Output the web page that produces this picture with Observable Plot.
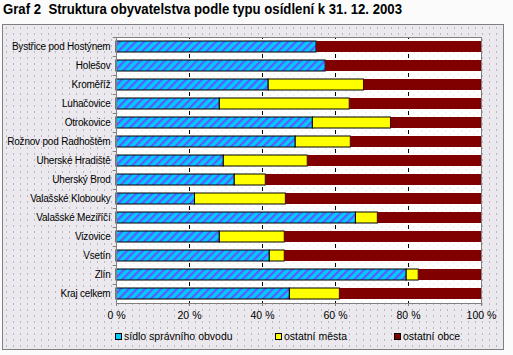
<!DOCTYPE html>
<html>
<head>
<meta charset="utf-8">
<script src="https://cdn.jsdelivr.net/npm/d3@7"></script>
<script src="https://cdn.jsdelivr.net/npm/@observablehq/plot@0.6"></script>
<style>
  html, body { margin: 0; padding: 0; }
  body {
    width: 513px; height: 355px; overflow: hidden; position: relative;
    background-color: #fbfbfb;
    font-family: "Liberation Sans", Arial, sans-serif;
  }
  #title {
    position: absolute; left: 3px; top: 0px; white-space: pre;
    font-weight: bold; font-size: 15px; color: #000; transform-origin: 0 0;
  }
  #frame {
    position: absolute; left: 2px; top: 24px; width: 500px; height: 324px;
    border: 1px solid #808080;
    background-color: #ebe9ed;
    background-image: radial-gradient(circle, #b9b7c4 0.7px, transparent 0.9px);
    background-size: 7px 6px;
  }
  #chart { position: absolute; left: 0; top: 24px; }
  .leg { position: absolute; top: 330px; font-size: 10.5px; white-space: nowrap; display: flex; align-items: center; }
  .sw { width: 5px; height: 5px; border: 1px solid #000; margin-right: 2px; }
  #chart svg g[aria-label="y-axis tick label"] text { letter-spacing: -0.2px; }
</style>
</head>
<body>
<div id="title"></div>
<div id="frame"></div>
<div id="chart"></div>
<div id="legend"></div>
<script>
const title = "Graf 2  Struktura obyvatelstva podle typu osídlení k 31. 12. 2003";
const categories = [
  "Bystřice pod Hostýnem", "Holešov", "Kroměříž", "Luhačovice", "Otrokovice",
  "Rožnov pod Radhoštěm", "Uherské Hradiště", "Uherský Brod", "Valašské Klobouky",
  "Valašské Meziříčí", "Vizovice", "Vsetín", "Zlín", "Kraj celkem"
];
const seriesNames = ["sídlo správního obvodu", "ostatní města", "ostatní obce"];
const sidlo = [54.8, 57.3, 41.7, 28.3, 53.8, 49.1, 29.4, 32.4, 21.5, 65.6, 28.3, 42.0, 79.5, 47.5];
const mesta = [0, 0, 26.1, 35.6, 21.4, 15.1, 23.0, 8.5, 24.9, 6.0, 17.8, 4.1, 3.3, 13.7];
const obce = sidlo.map((v, i) => +(100 - v - mesta[i]).toFixed(1));
const xTicks = [0, 20, 40, 60, 80, 100];
const gridTicks = [20, 40, 60, 80];
const seriesColors = ["url(#stripes)", "#ffff00", "#800000"];
const legendColors = ["#00ccff", "#ffff00", "#800000"];

// stacked segments
const segments = [];
categories.forEach((c, i) => {
  const vals = [sidlo[i], mesta[i], obce[i]];
  let acc = 0;
  vals.forEach((v, k) => {
    segments.push({cat: c, series: seriesNames[k], x1: acc, x2: acc + v});
    acc += v;
  });
});

document.getElementById("title").textContent = title;

const W = 513, H = 331;
const svg = Plot.plot({
  width: W, height: H,
  marginLeft: 116, marginRight: 32, marginTop: 13, marginBottom: 52,
  style: {background: "transparent", fontFamily: "Liberation Sans, Arial, sans-serif", fontSize: "10px", color: "#000"},
  x: {domain: [0, 100]},
  y: {domain: categories, paddingInner: 0.42, paddingOuter: 0.21},
  color: {domain: seriesNames, range: seriesColors},
  marks: [
    Plot.frame({fill: "url(#dots)"}),
    Plot.ruleX(gridTicks, {stroke: "#000", strokeWidth: 1, strokeDasharray: "4 15", strokeDashoffset: 2}),
    Plot.barX(segments.filter(d => d.series !== seriesNames[2]), {x1: "x1", x2: "x2", y: "cat", fill: "series", stroke: "#000", strokeWidth: 1}),
    Plot.barX(segments.filter(d => d.series === seriesNames[2]), {x1: "x1", x2: "x2", y: "cat", fill: "series"}),
    Plot.frame({stroke: "#808080"}),
    Plot.ruleY(categories, {y: d => d, x1: -0.9, x2: 0, dy: -9.5, stroke: "#808080"}),
    Plot.axisY({tickSize: 0, tickPadding: 6, label: null, fontSize: 10}),
    Plot.axisX({ticks: xTicks, tickFormat: d => d + " %", tickSize: 3, tickPadding: 5, label: null, stroke: "#808080", fontSize: 10.5})
  ]
});

const ns = "http://www.w3.org/2000/svg";
const defs = document.createElementNS(ns, "defs");
defs.innerHTML = `
  <pattern id="stripes" patternUnits="userSpaceOnUse" width="5.66" height="5.66" patternTransform="rotate(45)">
    <rect width="5.66" height="5.66" fill="#00ccff"></rect>
    <rect width="2.2" height="5.66" fill="#5a5aff"></rect>
  </pattern>
  <pattern id="dots" patternUnits="userSpaceOnUse" width="8" height="6">
    <rect width="8" height="6" fill="#ffffff"></rect>
    <rect x="1" y="1" width="1" height="1" fill="#d6d6dc"></rect>
    <rect x="5" y="4" width="1" height="1" fill="#d6d6dc"></rect>
  </pattern>`;
svg.insertBefore(defs, svg.firstChild);
document.getElementById("chart").appendChild(svg);

// legend
const legend = document.getElementById("legend");
const legX = [115, 275, 394];
seriesNames.forEach((name, k) => {
  const item = document.createElement("div");
  item.className = "leg";
  item.style.left = legX[k] + "px";
  const sw = document.createElement("div");
  sw.className = "sw";
  sw.style.background = legendColors[k];
  const t = document.createElement("span");
  t.textContent = name;
  item.appendChild(sw); item.appendChild(t);
  legend.appendChild(item);
});

// fit title width
const tEl = document.getElementById("title");
const tw = tEl.getBoundingClientRect().width;
tEl.style.transform = `scaleX(${399 / tw})`;
</script>
</body>
</html>
